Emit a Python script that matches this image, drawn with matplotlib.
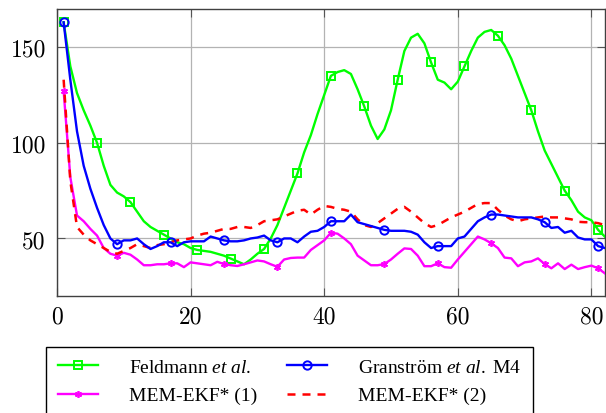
import matplotlib
matplotlib.use("Agg")
import matplotlib.pyplot as plt
import numpy as np

# time steps
steps = np.arange(1, 83)

feldmann = [163, 140, 126, 117, 109, 100, 88, 78, 74, 72,
            69, 64, 59, 56, 54, 52, 50, 48, 47, 45,
            44, 43.5, 43, 42, 41, 39.5, 38, 36.5, 39, 42,
            44.5, 50, 57, 66, 75, 84, 95, 104, 115, 125,
            135, 137, 138, 136, 128, 119, 109, 102, 107, 117,
            133, 148, 155, 157, 152, 142, 133, 131.5, 128, 132,
            140, 148, 155, 158, 159, 156, 151, 144, 135, 126,
            117, 106, 96, 89, 82, 75, 70, 64, 61, 59.5,
            54.5, 51]

granstroem = [163, 133, 106, 88, 76, 66, 57, 50, 47, 49,
              49, 50, 47, 44.5, 46, 48, 48, 46, 48, 48.5,
              48.5, 48.5, 51, 50, 49, 48.5, 48.5, 49, 50, 50.5,
              51.5, 49, 48, 50, 50, 48, 51, 53.5, 54, 56,
              59, 59, 59, 62.5, 58.5, 57.5, 56.5, 55.5, 54.5, 54,
              54, 54, 53.5, 52, 48, 45, 46, 46, 46, 50,
              51, 55, 59, 61, 62.5, 62.5, 62, 61.5, 61, 61,
              61, 60, 58.5, 55.5, 56, 53, 54, 50.5, 49.5, 49.5,
              46, 45]

mem_ekf_1 = [127, 82, 62, 59, 55, 51.5, 45, 42, 41, 42.5,
             41.5, 39, 36, 36, 36.5, 36.5, 37, 37, 35, 37.5,
             37, 36.5, 36, 37.8, 36.6, 36, 35.6, 36.5, 37.5, 38.5,
             38, 36.5, 35.2, 39, 39.8, 40, 40, 44, 46.5, 49,
             53, 52.5, 50, 47, 41, 38.5, 36, 36, 36.6, 39,
             42, 44.8, 44.5, 41, 35.5, 35.5, 37, 35, 34.7, 39,
             43, 47, 51, 49.5, 47.5, 45, 40, 39.6, 35.5, 37.5,
             38, 39.6, 36.6, 34.4, 37, 34, 36.3, 34, 35, 35.8,
             34.4, 31.8]

mem_ekf_2 = [133, 80, 56, 52, 49, 47, 45, 43, 42, 43.5,
             45, 47, 46, 45, 46.5, 47, 48, 49, 49.5, 50,
             51.5, 52.5, 53, 54, 55, 55, 56, 56, 55.5, 57,
             59, 59.5, 60, 61.5, 63, 64.5, 65, 62.5, 65, 67,
             66.5, 65.5, 65, 64, 60, 57, 56, 58, 60.5, 63,
             65.5, 66.5, 64, 61, 58, 56, 57, 59, 61, 62.5,
             64, 66, 68, 68.5, 68.5, 65, 62, 60, 59, 60,
             60.5, 61, 61.5, 61, 61, 60.5, 60, 58.7, 58.5, 58.5,
             58, 57]

plt.rcParams['font.family'] = 'Liberation Serif'
plt.rcParams['mathtext.fontset'] = 'custom'
plt.rcParams['mathtext.rm'] = 'Liberation Serif'
plt.rcParams['mathtext.it'] = 'Liberation Serif:italic'

fig = plt.figure(figsize=(6.06, 4.14), dpi=100)
ax = fig.add_axes([0.094, 0.283, 0.904, 0.693])

l1, = ax.plot(steps, feldmann, color='#00FF00', lw=1.7, marker='s', markevery=(0, 5),
              ms=6, mfc='none', mew=1.4, label=r'Feldmann $\mathit{et\ al.}$', zorder=3)
l2, = ax.plot(steps, granstroem, color='#0000FF', lw=1.7, marker='o', markevery=(0, 8),
              ms=6, mfc='none', mew=1.4, label=r'Granström $\mathit{et\ al.}\ $M4', zorder=4)
l3, = ax.plot(steps, mem_ekf_1, color='#FF00FF', lw=1.7, marker=(6, 2, 0), markevery=(0, 8),
              ms=5, mew=1.2, label='MEM-EKF* (1)', zorder=3)
l4, = ax.plot(steps, mem_ekf_2, color='#FF0000', lw=1.8, dashes=[3.2, 2.8],
              label='MEM-EKF* (2)', zorder=3)

ax.set_xlim(0, 82)
ax.set_ylim(20, 170)
ax.set_xticks([0, 20, 40, 60, 80])
ax.set_yticks([50, 100, 150])
ax.grid(True, color='#b3b3b3', lw=0.9)
ax.set_axisbelow(True)
ax.tick_params(direction='in', length=6, width=0.8, color='#555555',
               top=True, right=True, labelsize=17, labelfontfamily='cmr10')
ax.tick_params(axis='x', pad=7)
ax.tick_params(axis='y', pad=8)
for s in ax.spines.values():
    s.set_color('#404040')
    s.set_linewidth(1.0)

# row-major order like the original legend
fig.legend(handles=[l1, l3, l2, l4], loc='upper left', bbox_to_anchor=(0.076, 0.16),
           ncol=2, fontsize=14, frameon=True, fancybox=False, edgecolor='black',
           framealpha=1, handlelength=2.05, handletextpad=1.6, columnspacing=1.55,
           labelspacing=0.55, borderpad=0.6, borderaxespad=0)

fig.savefig('out.png', dpi=100)
